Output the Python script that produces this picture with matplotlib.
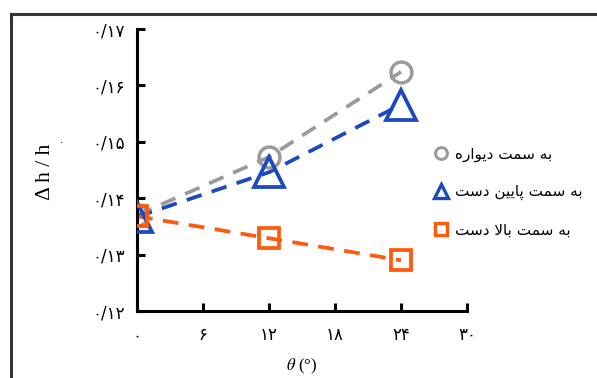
import matplotlib
matplotlib.use("Agg")
import matplotlib.pyplot as plt
from matplotlib.lines import Line2D

plt.rcParams["mathtext.fontset"] = "stix"

# ---- data ----
theta = [0, 12, 24]
wall = [0.1370, 0.1473, 0.1624]        # به سمت دیواره
downstream = [0.1367, 0.1446, 0.1566]  # به سمت پایین دست
upstream = [0.1368, 0.1329, 0.1290]    # به سمت بالا دست

xticks = [0, 6, 12, 18, 24, 30]
xtick_labels = ["۰", "۶", "۱۲", "۱۸", "۲۴", "۳۰"]
yticks = [0.12, 0.13, 0.14, 0.15, 0.16, 0.17]
ytick_labels = ["۰/۱۲", "۰/۱۳", "۰/۱۴", "۰/۱۵", "۰/۱۶", "۰/۱۷"]

# Persian labels (logical order), shaped manually into presentation forms
lbl_wall = "\uFE91\uFEEA \uFEB3\uFEE4\uFE96 \uFEA9\uFBFE\uFEEE\uFE8D\uFEAD\uFEE9"
lbl_down = "\uFE91\uFEEA \uFEB3\uFEE4\uFE96 \uFB58\uFE8E\uFBFE\uFBFF\uFEE6 \uFEA9\uFEB3\uFE96"
lbl_up = "\uFE91\uFEEA \uFEB3\uFEE4\uFE96 \uFE91\uFE8E\uFEFB \uFEA9\uFEB3\uFE96"
labels = [s[::-1] for s in (lbl_wall, lbl_down, lbl_up)]

gray = "#9b9b9b"
blue = "#1c49c0"
orange = "#ff5a0a"

W, H = 597, 378
fig = plt.figure(figsize=(W / 100, H / 100), dpi=100)
ax = fig.add_axes([137 / W, 1 - 311 / H, (467 - 137) / W, (311 - 29) / H])

dash = (4.2, 2.8)
ax.plot(theta, wall, color=gray, lw=2.7, ls=(0, dash), zorder=2)
ax.plot(theta, downstream, color=blue, lw=2.7, ls=(0, dash), zorder=2)
ax.plot(theta, upstream, color=orange, lw=2.7, ls=(0, dash), zorder=2)

ax.plot(theta, wall, ls="none", marker="o", ms=15, mfc="none", mec=gray, mew=2.5, zorder=3)
ax.plot(theta, downstream, ls="none", marker="^", ms=21, mfc="none", mec=blue, mew=2.7, zorder=3)
ax.plot(theta, upstream, ls="none", marker="s", ms=15, mfc="none", mec=orange, mew=2.7, zorder=4)

ax.set_xlim(0, 30)
ax.set_ylim(0.12, 0.17)
ax.set_xticks(xticks)
ax.set_xticklabels(xtick_labels)
ax.set_yticks(yticks)
ax.set_yticklabels(ytick_labels)
for side in ("top", "right"):
    ax.spines[side].set_visible(False)
for side in ("left", "bottom"):
    ax.spines[side].set_linewidth(2.2)
    ax.spines[side].set_color("black")
ax.tick_params(direction="in", length=6, width=2.2, labelsize=12)
ax.tick_params(axis="x", pad=11)
ax.tick_params(axis="y", pad=9)
for lab in ax.get_xticklabels() + ax.get_yticklabels():
    lab.set_fontfamily(["DejaVu Sans"])
for sp in ax.spines.values():
    sp.set_clip_on(False)

ax.set_xlabel(r"$\theta$ (°)", fontfamily="Liberation Serif", fontsize=12, labelpad=9)
fig.text(46 / W, 1 - 172 / H, "Δ h / h", rotation=90, fontfamily="Liberation Serif",
         fontsize=15.5, ha="center", va="center")
fig.text(60 / W, 1 - 139 / H, "۰", rotation=90, fontfamily="DejaVu Sans",
         fontsize=7, ha="center", va="center")

handles = [
    Line2D([], [], ls="none", marker="o", ms=8.5, mfc="none", mec=gray, mew=2.2),
    Line2D([], [], ls="none", marker="^", ms=9.5, mfc="none", mec=blue, mew=2.4),
    Line2D([], [], ls="none", marker="s", ms=8.5, mfc="none", mec=orange, mew=2.4),
]
leg = fig.legend(handles, labels, loc="upper left", bbox_to_anchor=(421 / W, 1 - 133 / H),
                 frameon=False, markerfirst=True, handlelength=0.8, handletextpad=0.5,
                 labelspacing=1.45, prop={"family": ["DejaVu Sans"], "size": 11})

# outer frame (left and top edges)
fig.add_artist(Line2D([10.5 / W, 10.5 / W], [0, 1 - 14 / H], color="#333333", lw=2.2,
                      transform=fig.transFigure))
fig.add_artist(Line2D([10.5 / W, 1], [1 - 14 / H, 1 - 14 / H], color="#333333", lw=2.2,
                      transform=fig.transFigure))

fig.savefig("out.png", dpi=100)
